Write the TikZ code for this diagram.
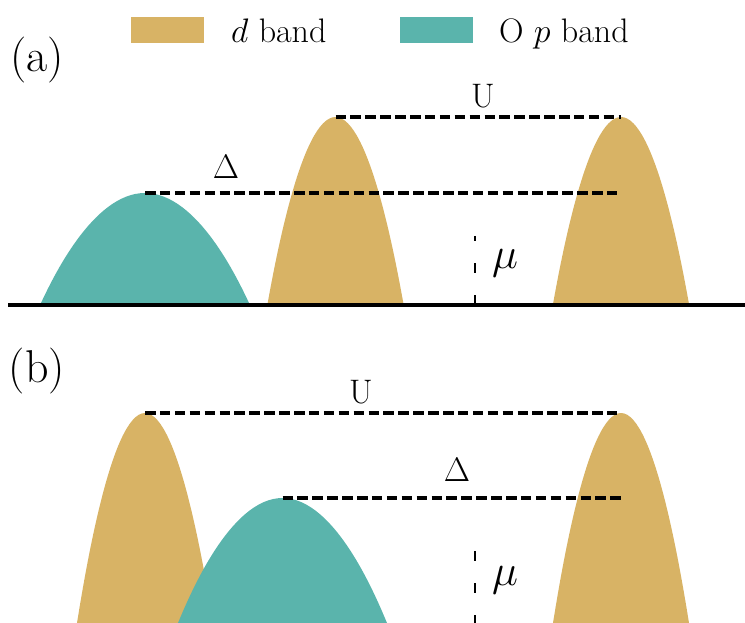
\RequirePackage{fix-cm}
\documentclass[tikz,border=0pt]{standalone}
\definecolor{dband}{HTML}{D8B365}
\definecolor{pband}{HTML}{5AB4AC}
\tikzset{
  bandd/.style={fill=dband, draw=none},
  bandp/.style={fill=pband, draw=none},
  legpatch/.style={draw=none, inner sep=0pt, minimum width=73pt, minimum height=26pt},
  level/.style={line width=3.3pt, dash pattern=on 10.5pt off 4.4pt},
  muline/.style={line width=2.5pt, dash pattern=on 10pt off 22pt},
  axisline/.style={line width=4.5pt},
  lbl/.style={inner sep=0pt, font=\fontsize{34}{40}\selectfont},
  panel/.style={inner sep=0pt, font=\fontsize{46}{52}\selectfont},
  mulbl/.style={inner sep=0pt, font=\fontsize{44}{50}\selectfont},
}
\begin{document}
\begin{tikzpicture}[x=1pt,y=-1pt]
\useasboundingbox (0,0) rectangle (745,623);
% legend
\node[legpatch, fill=dband] (legd) at (167.5,30) {};
\node[lbl, anchor=base west] (legdtxt) at (231,43) {$d$ band};
\node[legpatch, fill=pband] (legp) at (436.5,30) {};
\node[lbl, anchor=base west] (legptxt) at (499,43) {O $p$ band};

% panel (a)
\node[panel] (pa) at (37,60) {(a)};
\coordinate (aP) at (145,193);
\coordinate (aD1) at (335.5,117);
\coordinate (aD2) at (621,117);
\fill[bandp] (40.5,304) parabola bend (aP) (249.5,304) -- cycle;
\fill[bandd] (267.5,304) parabola bend (aD1) (403.5,304) -- cycle;
\fill[bandd] (553,304) parabola bend (aD2) (689,304) -- cycle;
\draw[axisline] (8,305) -- (745,305);
\coordinate (aDe) at (621,193);
\draw[level] (aD1) -- (aD2);
\draw[level] (aP) -- (aDe);
\node[lbl] (aU) at (483,96) {U};
\node[lbl] (aDelta) at (226,167) {$\Delta$};
\coordinate (aM1) at (475,236);
\coordinate (aM2) at (475,303);
\draw[muline, dash phase=5pt] (aM1) -- (aM2);
\node[mulbl] (amu) at (505,263) {$\mu$};

% panel (b)
\node[panel] (pb) at (37,371) {(b)};
\coordinate (bD1) at (145,413);
\coordinate (bP) at (282.5,498);
\coordinate (bD2) at (621,413);
\fill[bandd] (77,623) parabola bend (bD1) (213,623) -- cycle;
\fill[bandp] (178,623) parabola bend (bP) (387,623) -- cycle;
\fill[bandd] (553,623) parabola bend (bD2) (689,623) -- cycle;
\coordinate (bDe) at (621,498);
\draw[level] (bD1) -- (bD2);
\draw[level] (bP) -- (bDe);
\node[lbl] (bU) at (361,392) {U};
\node[lbl] (bDelta) at (457,470) {$\Delta$};
\coordinate (bM1) at (475,551);
\coordinate (bM2) at (475,623);
\draw[muline] (bM1) -- (bM2);
\node[mulbl] (bmu) at (505,580) {$\mu$};
\end{tikzpicture}
\end{document}
